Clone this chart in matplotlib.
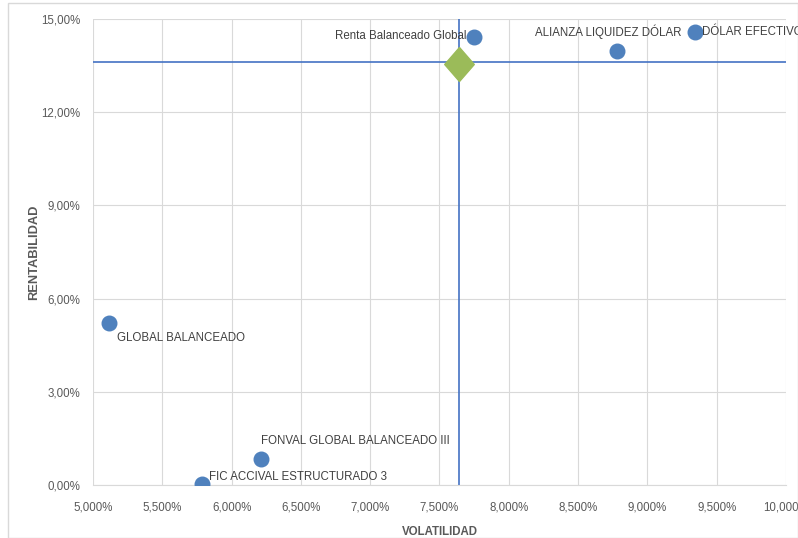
import matplotlib.pyplot as plt
from matplotlib.ticker import FuncFormatter

# --- Données ---
nombres = ["Renta Balanceado Global", "ALIANZA LIQUIDEZ DÓLAR", "DÓLAR EFECTIVO",
           "GLOBAL BALANCEADO", "FONVAL GLOBAL BALANCEADO III", "FIC ACCIVAL ESTRUCTURADO 3"]
volatilidad = [7.75, 8.78, 9.34, 5.115, 6.21, 5.79]
rentabilidad = [14.42, 13.97, 14.58, 5.21, 0.84, 0.03]
vol_prom = 7.64
rent_prom = 13.55

plt.rcParams['font.family'] = ['Liberation Sans', 'DejaVu Sans']

fig = plt.figure(figsize=(7.98, 5.38), dpi=100)
ax = fig.add_axes([0.1165, 0.0985, 0.8685, 0.8662])

# cadre gris autour de la figure
fig.patches.append(plt.Rectangle((0.01, 0.0), 0.99, 0.995, transform=fig.transFigure,
                                 fill=False, edgecolor='#d9d9d9', linewidth=1))

rombo = [(0, 1.15), (1, 0), (0, -1.15), (-1, 0), (0, 1.15)]
ax.scatter(volatilidad, rentabilidad, s=110, color='#4f81bd', zorder=3)
ax.scatter([vol_prom], [rent_prom], s=600, marker=rombo, color='#9bbb59', zorder=3)
ax.axhline(13.61, color='#4472c4', linewidth=1.2, zorder=2)
ax.axvline(vol_prom, color='#4472c4', linewidth=1.2, zorder=2)

# étiquettes (décalages en pixels)
pos = [(-8, 1, 'right', 'center'), (-9, 12, 'center', 'bottom'), (7, 0, 'left', 'center'),
       (8, -15, 'left', 'center'), (0, 18, 'left', 'center'), (7, 7, 'left', 'center')]
for n, x, y, (dx, dy, ha, va) in zip(nombres, volatilidad, rentabilidad, pos):
    ax.annotate(n, (x, y), xytext=(dx, dy), textcoords='offset pixels',
                ha=ha, va=va, fontsize=8.3, color='#404040', zorder=4,
                annotation_clip=False)

ax.set_xlim(5, 10)
ax.set_ylim(0, 15)
ax.set_xticks([5 + 0.5 * i for i in range(11)])
ax.set_yticks([0, 3, 6, 9, 12, 15])
ax.xaxis.set_major_formatter(FuncFormatter(lambda v, p: f"{v:.3f}%".replace('.', ',')))
ax.yaxis.set_major_formatter(FuncFormatter(lambda v, p: f"{v:.2f}%".replace('.', ',')))
ax.tick_params(length=0, labelsize=8.3, labelcolor='#595959')
ax.tick_params(axis='x', pad=12)
ax.tick_params(axis='y', pad=9)
ax.grid(True, color='#d9d9d9', linewidth=0.8)
ax.set_axisbelow(True)
for s in ['top', 'right', 'left']:
    ax.spines[s].set_visible(False)
ax.spines['bottom'].set_color('#d9d9d9')

ax.set_xlabel('VOLATILIDAD', fontsize=8.3, fontweight='bold', color='#595959', labelpad=9)
ax.set_ylabel('RENTABILIDAD', fontsize=9.3, fontweight='bold', color='#595959', labelpad=1)

fig.savefig('out.png', dpi=100)
